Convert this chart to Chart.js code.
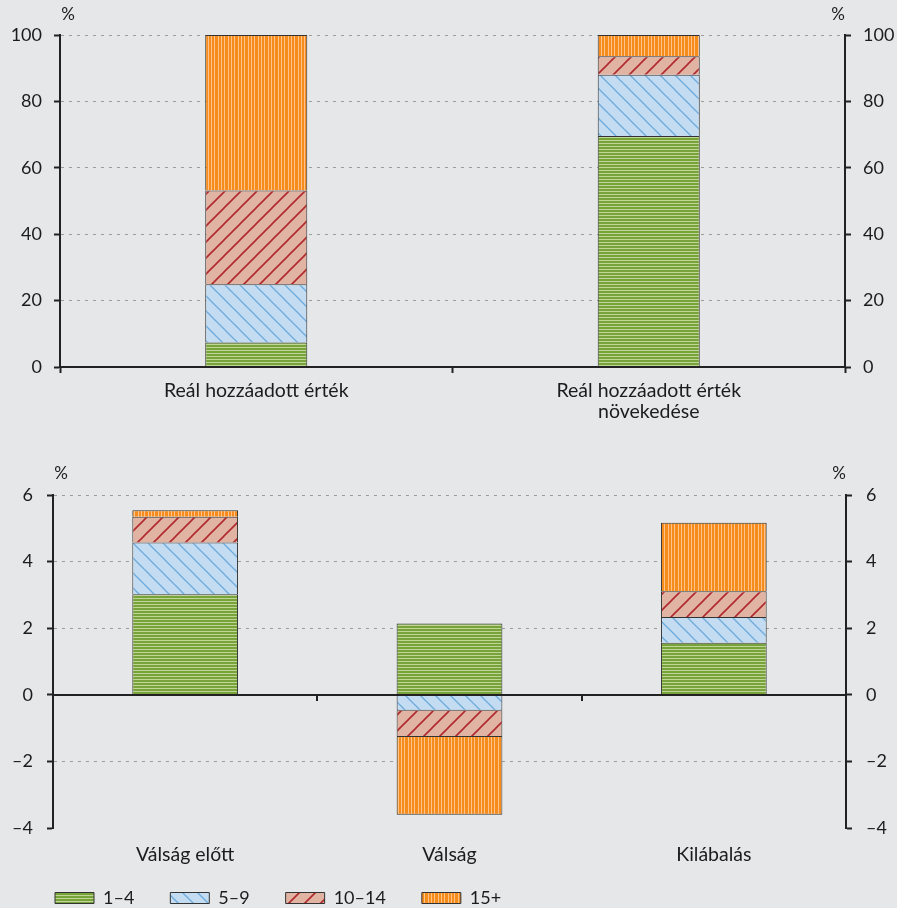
<!DOCTYPE html>
<html>
<head>
<meta charset="utf-8">
<script src="https://cdn.jsdelivr.net/npm/chart.js@4.4.0/dist/chart.umd.min.js"></script>
<style>
  html, body { margin: 0; padding: 0; background: #e6e7e8; width: 897px; height: 908px; overflow: hidden; }
  canvas { position: absolute; left: 0; }
  #shareChart { top: 0; }
  #growthChart { top: 440px; }
</style>
</head>
<body>
<canvas id="shareChart" width="897" height="440"></canvas>
<canvas id="growthChart" width="897" height="477"></canvas>
<script>
// Firm size bands (number of employees)
const seriesNames = ['1–4', '5–9', '10–14', '15+'];

// Upper panel: share of real value added and of its growth, %
const shareCategories = ['Reál hozzáadott érték', ['Reál hozzáadott érték', 'növekedése']];
const share1to4 = [7.4, 69.6];
const share5to9 = [17.5, 18.4];
const share10to14 = [28.3, 5.6];
const share15plus = [46.8, 6.4];
const shareTicks = [0, 20, 40, 60, 80, 100];
const shareTickLabels = ['0', '20', '40', '60', '80', '100'];

// Lower panel: contributions by period, %
const growthCategories = ['Válság előtt', 'Válság', 'Kilábalás'];
const growth1to4 = [3.02, 2.14, 1.56];
const growth5to9 = [1.55, -0.48, 0.78];
const growth10to14 = [0.78, -0.79, 0.77];
const growth15plus = [0.19, -2.33, 2.06];
const growthTicks = [-4, -2, 0, 2, 4, 6];
const growthTickLabels = ['–4', '–2', '0', '2', '4', '6'];

const TEXT = '#1c1c1c';
const AXIS = '#222222';
const GRID = '#9c9c9c';
const FONT = 'Lato';

Chart.defaults.font.family = FONT;
Chart.defaults.font.size = 18;
Chart.defaults.color = TEXT;

// Hatched fills
function makeTile(w, h, paint) {
  const c = document.createElement('canvas');
  c.width = w; c.height = h;
  const g = c.getContext('2d');
  paint(g, w, h);
  return document.createElement('canvas').getContext('2d').createPattern(c, 'repeat');
}
const fillGreen = makeTile(4, 3, (g, w, h) => {
  g.fillStyle = '#78a33a'; g.fillRect(0, 0, w, h);
  g.fillStyle = '#bfd697'; g.fillRect(0, 2, w, 1);
});
const fillBlue = makeTile(15, 15, (g, w, h) => {
  g.fillStyle = '#c4dcf1'; g.fillRect(0, 0, w, h);
  g.strokeStyle = '#6eaadb'; g.lineWidth = 1.3;
  [-w, 0, w].forEach(dx => {
    g.beginPath(); g.moveTo(dx - 1, -1); g.lineTo(dx + w + 1, h + 1); g.stroke();
  });
});
const fillRed = makeTile(16, 16, (g, w, h) => {
  g.fillStyle = '#e1b3a3'; g.fillRect(0, 0, w, h);
  g.strokeStyle = '#b0282c'; g.lineWidth = 1.6;
  [-w, 0, w].forEach(dx => {
    g.beginPath(); g.moveTo(dx - 1, h + 1); g.lineTo(dx + w + 1, -1); g.stroke();
  });
});
const fillOrange = makeTile(10, 4, (g, w, h) => {
  g.fillStyle = '#f68c1c'; g.fillRect(0, 0, w, h);
  g.fillStyle = '#fdc38b';
  [1, 4, 8].forEach(x => g.fillRect(x, 0, 1, h));
});
const fills = [fillGreen, fillBlue, fillRed, fillOrange];

function makeDatasets(seriesList, barPct) {
  return seriesList.map((values, i) => ({
    label: seriesNames[i],
    data: values,
    backgroundColor: fills[i],
    borderColor: '#333333',
    borderWidth: 1,
    borderSkipped: 'start',
    barPercentage: barPct,
    categoryPercentage: 1
  }));
}

// "%" unit markers above both value axes
const percentMarks = {
  id: 'percentMarks',
  afterDraw(chart, args, opts) {
    const { ctx, chartArea } = chart;
    ctx.save();
    ctx.font = '17px ' + FONT;
    ctx.fillStyle = TEXT;
    ctx.textAlign = 'center';
    ctx.textBaseline = 'middle';
    ctx.fillText('%', chartArea.left + opts.dxLeft, chartArea.top - opts.dy);
    ctx.fillText('%', chartArea.right + opts.dxRight, chartArea.top - opts.dy);
    ctx.restore();
  }
};

// Category axis drawn along the zero line, ticks between categories
const zeroAxis = {
  id: 'zeroAxis',
  afterDatasetsDraw(chart) {
    if (!chart.options.plugins.zeroAxis || !chart.options.plugins.zeroAxis.enabled) return;
    const { ctx, chartArea, scales } = chart;
    const y0 = Math.round(scales.y.getPixelForValue(0));
    ctx.save();
    ctx.strokeStyle = AXIS;
    ctx.lineWidth = 2;
    ctx.beginPath();
    ctx.moveTo(chartArea.left, y0);
    ctx.lineTo(chartArea.right, y0);
    ctx.stroke();
    const n = chart.data.labels.length;
    for (let i = 1; i < n; i++) {
      const xb = Math.round((scales.x.getPixelForValue(i - 1) + scales.x.getPixelForValue(i)) / 2);
      ctx.beginPath();
      ctx.moveTo(xb, y0);
      ctx.lineTo(xb, y0 + 6);
      ctx.stroke();
    }
    ctx.restore();
  }
};

// Indents the legend row so it lines up under the value axis
const legendInset = {
  id: 'legendInset',
  afterLayout(chart, args, opts) {
    const lg = chart.legend;
    if (!lg || !opts.x) return;
    lg.left += opts.x;
    lg.right += opts.x;
  }
};

function valueAxis(position, tickValues, tickLabels, width, hiddenGrid, pad) {
  return {
    position,
    stacked: position === 'left',
    min: tickValues[0],
    max: tickValues[tickValues.length - 1],
    afterBuildTicks(scale) { scale.ticks = tickValues.map(v => ({ value: v })); },
    afterFit(scale) { scale.width = width; },
    grid: {
      drawOnChartArea: position === 'left',
      color: c => (hiddenGrid.includes(c.tick.value) ? 'rgba(0,0,0,0)' : GRID),
      lineWidth: 1,
      tickLength: 6,
      tickColor: AXIS,
      tickWidth: 2,
      tickBorderDash: []
    },
    border: { color: AXIS, width: 2, dash: [3, 5] },
    ticks: {
      padding: pad,
      color: TEXT,
      font: { size: 18 },
      callback: (v, i) => tickLabels[i]
    }
  };
}

new Chart(document.getElementById('shareChart'), {
  type: 'bar',
  data: {
    labels: shareCategories,
    datasets: makeDatasets([share1to4, share5to9, share10to14, share15plus], 0.26)
  },
  plugins: [percentMarks],
  options: {
    responsive: false,
    animation: false,
    layout: { padding: { top: 35, left: 0, right: 0, bottom: 0 } },
    plugins: {
      legend: { display: false },
      tooltip: { enabled: false },
      percentMarks: { dxLeft: 8, dxRight: -7, dy: 20 }
    },
    scales: {
      x: {
        stacked: true,
        afterFit(scale) { scale.height = 73; },
        grid: { offset: true, drawOnChartArea: false, tickLength: 6, tickColor: AXIS, tickWidth: 2 },
        border: { color: AXIS, width: 2, z: 1 },
        ticks: { padding: 8, color: TEXT, font: { size: 19.5, lineHeight: 1.04 }, maxRotation: 0, autoSkip: false }
      },
      y: valueAxis('left', shareTicks, shareTickLabels, 60, [0], 12),
      y2: valueAxis('right', shareTicks, shareTickLabels, 52, [0], 12)
    }
  }
});

new Chart(document.getElementById('growthChart'), {
  type: 'bar',
  data: {
    labels: growthCategories,
    datasets: makeDatasets([growth1to4, growth5to9, growth10to14, growth15plus], 0.4)
  },
  plugins: [percentMarks, zeroAxis, legendInset],
  options: {
    responsive: false,
    animation: false,
    layout: { padding: { top: 55, left: 0, right: 0, bottom: 0 } },
    plugins: {
      legend: {
        display: true,
        position: 'bottom',
        align: 'start',
        labels: { boxWidth: 39, boxHeight: 11, padding: 36, color: TEXT, font: { size: 18 } }
      },
      tooltip: { enabled: false },
      percentMarks: { dxLeft: 8, dxRight: -7, dy: 21 },
      zeroAxis: { enabled: true },
      legendInset: { x: 19 }
    },
    scales: {
      x: {
        stacked: true,
        afterFit(scale) { scale.height = 25; },
        grid: { display: false, drawTicks: false },
        border: { display: false },
        // labels hang below the short axis box; mirror keeps them from being clipped
        ticks: { mirror: true, padding: -37, color: TEXT, font: { size: 19.5, lineHeight: 1.04 }, maxRotation: 0, autoSkip: false }
      },
      y: valueAxis('left', growthTicks, growthTickLabels, 53, [0, -4], 14),
      y2: valueAxis('right', growthTicks, growthTickLabels, 51, [0, -4], 14)
    }
  }
});
</script>
</body>
</html>
